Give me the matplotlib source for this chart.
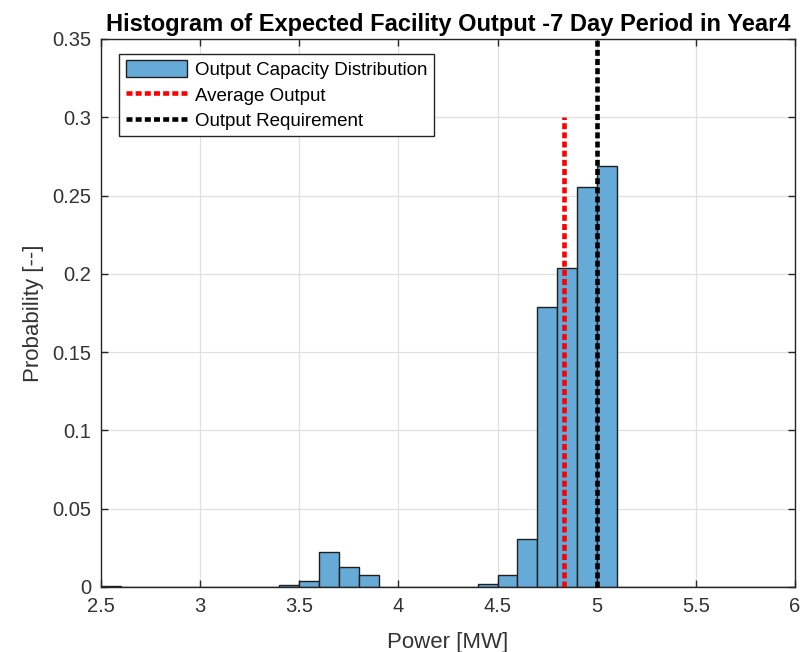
import matplotlib
matplotlib.use("Agg")
import matplotlib.pyplot as plt
import numpy as np

# Data
bin_edges = [round(2.5 + 0.1 * i, 1) for i in range(36)]
probabilities = [0.0005, 0, 0, 0, 0, 0, 0, 0, 0.0003, 0.0012,   # 2.5 - 3.5
                 0.0038, 0.0223, 0.0128, 0.0077, 0, 0, 0, 0, 0, 0.0017,  # 3.5 - 4.5
                 0.0075, 0.0304, 0.179, 0.2035, 0.2555, 0.269, 0, 0, 0, 0,  # 4.5 - 5.5
                 0, 0, 0, 0, 0]  # 5.5 - 6.0
avg_output = 4.835
avg_line_top = 0.3
requirement = 5.0
req_line_top = 0.35
x_ticks = [2.5, 3, 3.5, 4, 4.5, 5, 5.5, 6]
x_ticklabels = ["2.5", "3", "3.5", "4", "4.5", "5", "5.5", "6"]
y_ticks = [0, 0.05, 0.1, 0.15, 0.2, 0.25, 0.3, 0.35]
y_ticklabels = ["0", "0.05", "0.1", "0.15", "0.2", "0.25", "0.3", "0.35"]
title = "Histogram of Expected Facility Output -7 Day Period in Year4"
xlabel = "Power [MW]"
ylabel = "Probability [--]"
legend_labels = ["Output Capacity Distribution", "Average Output", "Output Requirement"]

plt.rcParams['font.family'] = ['Liberation Sans', 'DejaVu Sans']
axc = '#262626'

fig = plt.figure(figsize=(8.06, 6.52), dpi=100)
ax = fig.add_axes([101/806, 1 - 587/652, (795-101)/806, (587-39)/652])

lefts = np.array(bin_edges[:-1])
widths = np.diff(bin_edges)
bars = ax.bar(lefts, probabilities, width=widths, align='edge',
              facecolor='#66AAD7', edgecolor='#1f1f1f', linewidth=1.0, zorder=2)
l1, = ax.plot([avg_output, avg_output], [0, avg_line_top], color='red', lw=3.3,
              linestyle=(0, (1.3, 0.7)), zorder=3)
l2, = ax.plot([requirement, requirement], [0, req_line_top], color='black', lw=3.3,
              linestyle=(0, (1.3, 0.7)), zorder=3, clip_on=False)

ax.set_xlim(2.5, 6)
ax.set_ylim(0, 0.35)
ax.set_xticks(x_ticks)
ax.set_xticklabels(x_ticklabels)
ax.set_yticks(y_ticks)
ax.set_yticklabels(y_ticklabels)
ax.grid(True, color='#e0e0e0', linewidth=0.9, zorder=0)
ax.set_axisbelow(True)
for s in ax.spines.values():
    s.set_color(axc)
    s.set_linewidth(1.0)
ax.tick_params(axis='both', direction='in', top=True, right=True, length=5,
               width=1.0, color=axc, labelcolor='#333333', labelsize=14.5, pad=7)

ax.set_title(title, fontsize=17, fontweight='bold', color='black', pad=6)
ax.set_xlabel(xlabel, fontsize=16, color='#333333', labelpad=12)
ax.set_ylabel(ylabel, fontsize=16, color='#333333', labelpad=6)

leg = ax.legend([bars, l1, l2], legend_labels, loc='upper left',
                bbox_to_anchor=(0.026, 0.973), fontsize=13.5,
                frameon=True, fancybox=False, edgecolor=axc, framealpha=1,
                handlelength=3.3, handleheight=1.0, handletextpad=0.4,
                labelspacing=0.35, borderpad=0.35, borderaxespad=0)
leg.get_frame().set_linewidth(1.0)

fig.savefig("out.png", dpi=100)
